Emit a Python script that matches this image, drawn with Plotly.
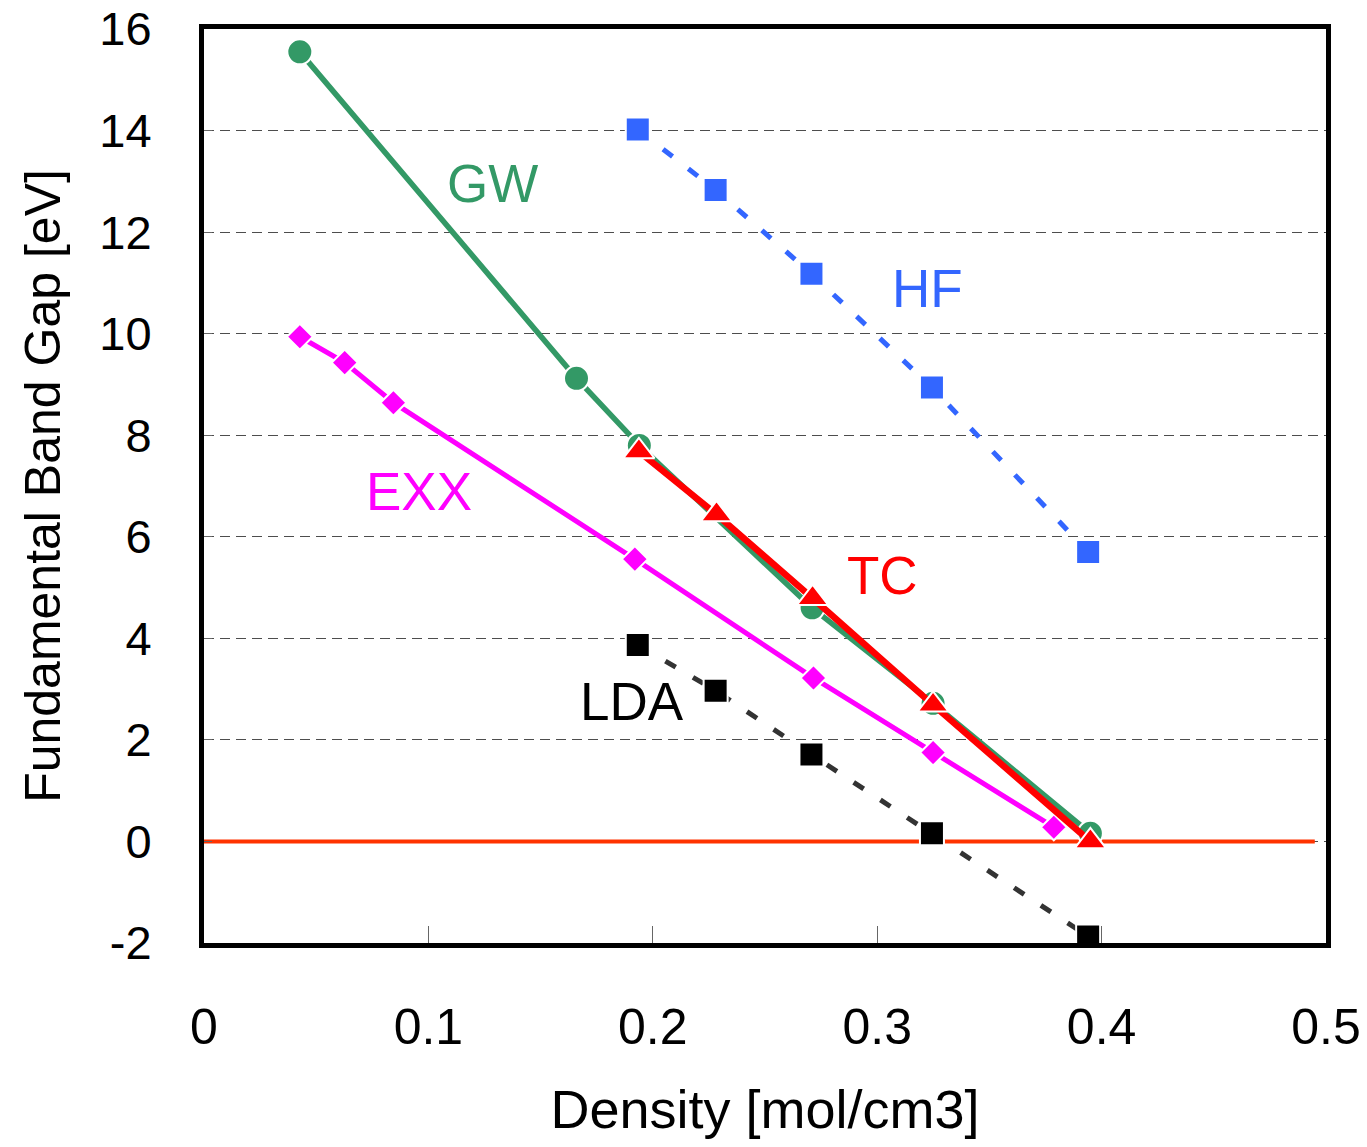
import plotly.graph_objects as go

# ---- data ----
gw_x = [0.0427, 0.166, 0.194, 0.271, 0.3249, 0.395]
gw_y = [15.55, 9.12, 7.80, 4.60, 2.72, 0.16]

hf_x = [0.1933, 0.228, 0.2707, 0.3244, 0.394]
hf_y = [14.02, 12.83, 11.18, 8.94, 5.70]

lda_x = [0.1933, 0.228, 0.2707, 0.3244, 0.394]
lda_y = [3.87, 2.97, 1.71, 0.16, -1.87]

tc_x = [0.1938, 0.2284, 0.2712, 0.3249, 0.395]
tc_y = [7.68, 6.44, 4.79, 2.69, 0.0]

exx_x = [0.0427, 0.0627, 0.0844, 0.192, 0.2716, 0.3249, 0.3787]
exx_y = [9.94, 9.43, 8.64, 5.56, 3.22, 1.75, 0.28]

zero_x = [0.0, 0.495]
zero_y = [0.0, 0.0]

x_ticks = [0, 0.1, 0.2, 0.3, 0.4, 0.5]
x_tick_text = ["0", "0.1", "0.2", "0.3", "0.4", "0.5"]
y_ticks = [-2, 0, 2, 4, 6, 8, 10, 12, 14, 16]
y_tick_text = ["-2", "0", "2", "4", "6", "8", "10", "12", "14", "16"]

labels = ["GW", "HF", "EXX", "TC", "LDA"]
label_x = [0.1284, 0.3222, 0.0960, 0.3022, 0.1907]
label_y = [12.95, 10.88, 6.90, 5.23, 2.75]
label_colors = ["#339966", "#3366FF", "#FF00FF", "#FF0000", "#000000"]

FONT = "Liberation Sans, Arial, sans-serif"

fig = go.Figure()

fig.add_trace(go.Scatter(x=zero_x, y=zero_y, mode="lines",
                         line=dict(color="#FF3300", width=4), showlegend=False))

fig.add_trace(go.Scatter(x=lda_x, y=lda_y, mode="lines+markers",
                         line=dict(color="#333333", width=5, dash="12px,20px"),
                         marker=dict(symbol="square", size=24, color="#000000",
                                     line=dict(color="white", width=2)),
                         showlegend=False))

fig.add_trace(go.Scatter(x=hf_x, y=hf_y, mode="lines+markers",
                         line=dict(color="#3366FF", width=5, dash="12px,20px"),
                         marker=dict(symbol="square", size=24, color="#3366FF",
                                     line=dict(color="white", width=2)),
                         showlegend=False))

fig.add_trace(go.Scatter(x=exx_x, y=exx_y, mode="lines+markers",
                         line=dict(color="#FF00FF", width=5),
                         marker=dict(symbol="diamond", size=20, color="#FF00FF",
                                     line=dict(color="white", width=2)),
                         showlegend=False))

fig.add_trace(go.Scatter(x=gw_x, y=gw_y, mode="lines+markers",
                         line=dict(color="#339966", width=5.5),
                         marker=dict(symbol="circle", size=25, color="#339966",
                                     line=dict(color="white", width=2)),
                         showlegend=False))

fig.add_trace(go.Scatter(x=tc_x, y=tc_y, mode="lines+markers",
                         line=dict(color="#FF0000", width=6.5),
                         marker=dict(symbol="triangle-up", size=27, color="#FF0000",
                                     line=dict(color="white", width=2)),
                         showlegend=False))

for t, x, y, c in zip(labels, label_x, label_y, label_colors):
    fig.add_annotation(x=x, y=y, text=t, showarrow=False,
                       font=dict(family=FONT, size=53, color=c),
                       xanchor="center", yanchor="middle")

fig.update_layout(
    width=1367, height=1147,
    margin=dict(l=204, r=41, t=29, b=204),
    paper_bgcolor="white", plot_bgcolor="white",
    font=dict(family=FONT, color="black"),
)

fig.update_xaxes(
    range=[0, 0.5], tickvals=x_ticks, ticktext=x_tick_text,
    showgrid=False, zeroline=False, automargin=False,
    showline=True, linecolor="black", linewidth=5, mirror=True,
    ticks="inside", ticklen=17, tickwidth=1, tickcolor="#666666",
    tickfont=dict(family=FONT, size=50, color="black"),
    ticklabelstandoff=36,
    title=dict(text="Density [mol/cm3]", font=dict(family=FONT, size=54, color="black"),
               standoff=38),
)

fig.update_yaxes(
    range=[-2, 16], tickvals=y_ticks, ticktext=y_tick_text,
    showgrid=True, gridcolor="#4d4d4d", gridwidth=1, griddash="10px,6px",
    zeroline=False, automargin=False,
    showline=True, linecolor="black", linewidth=5, mirror=True,
    ticks="inside", ticklen=8, tickwidth=1, tickcolor="#666666",
    tickfont=dict(family=FONT, size=47, color="black"),
    ticklabelstandoff=38,
    title=dict(text="Fundamental Band Gap [eV]", font=dict(family=FONT, size=50, color="black"),
               standoff=24),
)

fig.write_html("out.html")
